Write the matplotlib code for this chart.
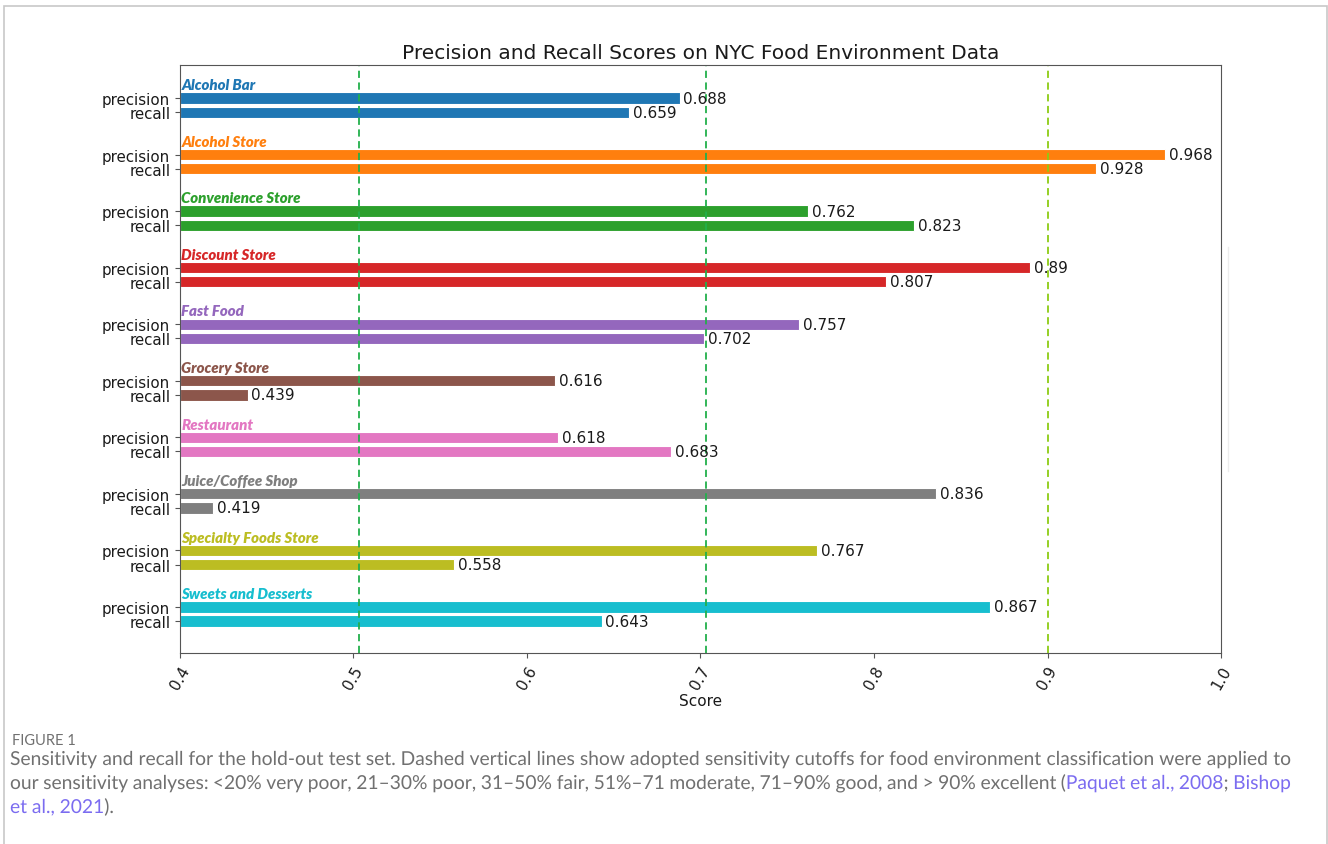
import matplotlib
matplotlib.use("Agg")
import matplotlib.pyplot as plt
from matplotlib.lines import Line2D
from matplotlib.patches import Rectangle, PathPatch
from matplotlib.textpath import TextPath
from matplotlib.font_manager import FontProperties
from matplotlib.transforms import Affine2D

categories = ["Alcohol Bar", "Alcohol Store", "Convenience Store", "Discount Store",
              "Fast Food", "Grocery Store", "Restaurant", "Juice/Coffee Shop",
              "Specialty Foods Store", "Sweets and Desserts"]
precision = [0.688, 0.968, 0.762, 0.89, 0.757, 0.616, 0.618, 0.836, 0.767, 0.867]
recall = [0.659, 0.928, 0.823, 0.807, 0.702, 0.439, 0.683, 0.419, 0.558, 0.643]
x_ticks = [0.4, 0.5, 0.6, 0.7, 0.8, 0.9, 1.0]
cutoffs = [0.503, 0.703, 0.9]
cutoff_colors = ["#22b04b", "#22b04b", "#8ccc14"]
colors = ["#1f77b4", "#ff7f0e", "#2ca02c", "#d62728", "#9467bd",
          "#8c564b", "#e377c2", "#7f7f7f", "#bcbd22", "#17becf"]

W, H = 1328, 845
DPI = 100
fig = plt.figure(figsize=(W / DPI, H / DPI), dpi=DPI)
fig.patch.set_facecolor("white")

# outer border
fig.add_artist(Rectangle((4 / W, -0.01), (1327 - 4) / W, 1 - 7 / H + 0.01,
                         transform=fig.transFigure, fill=False,
                         edgecolor="#c8c8c8", linewidth=1.2))
# faint artifact line
fig.add_artist(Line2D([1228 / W, 1228 / W], [1 - 248 / H, 1 - 472 / H],
                      transform=fig.transFigure, color="#ececec", linewidth=1))

ax = fig.add_axes([180 / W, 1 - 654 / H, (1221 - 180) / W, (654 - 66) / H])

off = 0.125
bh = 0.2
ytick_pos, ytick_lab = [], []
for i, (cat, p, r, c) in enumerate(zip(categories, precision, recall, colors)):
    ax.barh(i - off, p - 0.4, left=0.4, height=bh, color=c, edgecolor="white", linewidth=0.8)
    ax.barh(i + off, r - 0.4, left=0.4, height=bh, color=c, edgecolor="white", linewidth=0.8)
    ax.text(p + 0.0022, i - off, f"{p:g}", va="center", ha="left", fontsize=11, color="#1a1a1a")
    ax.text(r + 0.0022, i + off, f"{r:g}", va="center", ha="left", fontsize=11, color="#1a1a1a")
    ax.text(0.4008, i - off - bh / 2 - 0.02, cat, va="bottom", ha="left", fontsize=10.8,
            color=c, family="Lato", fontweight="heavy", fontstyle="italic")
    ytick_pos += [i - off, i + off]
    ytick_lab += ["precision", "recall"]

for xv, cc in zip(cutoffs, cutoff_colors):
    ax.axvline(xv, color=cc, linestyle="--", linewidth=1.3, dashes=(4, 2.5))

ax.set_xlim(0.4, 1.0)
ax.set_ylim(9.69, -0.71)
ax.set_yticks(ytick_pos)
ax.set_yticklabels(ytick_lab, fontsize=10.8, color="#1a1a1a")
ax.set_xticks(x_ticks)
ax.set_xticklabels([f"{v:.1f}" for v in x_ticks], rotation=60, fontsize=11, color="#1a1a1a")
ax.set_xlabel("Score", fontsize=11, color="#1a1a1a", labelpad=1)
ax.set_title("Precision and Recall Scores on NYC Food Environment Data", fontsize=14.5,
             color="#1a1a1a", pad=5)
for s in ax.spines.values():
    s.set_color("#555555")
ax.tick_params(colors="#555555", labelcolor="#1a1a1a")

# caption
fig.text(12 / W, 1 - 745 / H, "FIGURE 1", fontsize=10.5, color="#707070", family="Lato",
         va="baseline", ha="left")

gray = "#707070"
link = "#7b6cf0"
lines = [
    ([("Sensitivity and recall for the hold-out test set. Dashed vertical lines show adopted sensitivity cutoffs for food environment classification were applied to", gray)], True),
    ([("our sensitivity analyses: <20% very poor, 21\u201330% poor, 31\u201350% fair, 51%\u201371 moderate, 71\u201390% good, and  >  90% excellent (", gray),
      ("Paquet et al., 2008", link), ("; ", gray), ("Bishop", link)], True),
    ([("et al., 2021", link), (").", gray)], False),
]
ys = [766, 790, 814]
x0, x1 = 10, 1291
fig.canvas.draw()
renderer = fig.canvas.get_renderer()
prop = FontProperties(family="Lato")


def width_of(s, fs):
    t = fig.text(0, 0, s, fontsize=fs, family="Lato")
    w = t.get_window_extent(renderer).width
    t.remove()
    return w


fs0 = 12.0
nat = width_of(lines[0][0][0][0], fs0)
fs = fs0 * (x1 - x0) / nat * 0.995

for (segs, justify), yy in zip(lines, ys):
    tokens = []
    for txt, col in segs:
        parts = txt.split(" ")
        for k, part in enumerate(parts):
            if part == "":
                if tokens:
                    tokens[-1][2] = True
                continue
            trailing = k < len(parts) - 1
            tokens.append([part, col, trailing])
    widths = [width_of(t[0], fs) for t in tokens]
    nspaces = sum(1 for t in tokens[:-1] if t[2])
    space_w = width_of("a a", fs) - width_of("aa", fs)
    if justify and nspaces:
        space_w = (x1 - x0 - sum(widths)) / nspaces
    x = x0
    for (word, col, trailing), w in zip(tokens, widths):
        tp = TextPath((0, 0), word, size=fs, prop=prop)
        tr = Affine2D().scale(DPI / 72.0).translate(x, H - yy)
        fig.add_artist(PathPatch(tp, transform=tr, facecolor=col, edgecolor="none",
                                 linewidth=0))
        x += w + (space_w if trailing else 0)

fig.savefig("out.png", dpi=DPI)
